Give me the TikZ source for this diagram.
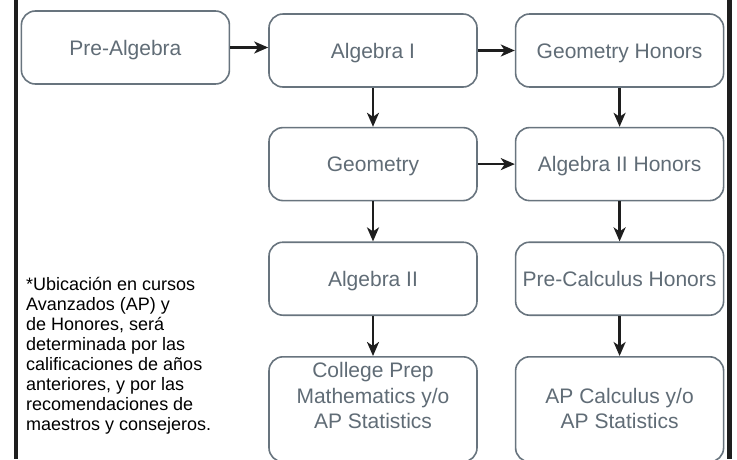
\documentclass[tikz,border=0pt]{standalone}
\usepackage{fontspec}
\setmainfont{Liberation Sans}
\usepackage{tikz}
\usetikzlibrary{positioning, arrows.meta}
\definecolor{boxgray}{RGB}{104, 116, 126}
\definecolor{textgray}{RGB}{96, 108, 118}
\definecolor{barblack}{RGB}{30, 30, 30}
\tikzset{
    coursebox/.style={
        draw=boxgray, line width=1.6pt, rounded corners=14pt, fill=white,
        minimum width=208pt, minimum height=73pt, inner sep=3pt,
        text=textgray, align=center, text height=15pt, text depth=0pt,
        font=\fontsize{21pt}{25.5pt}\selectfont
    },
    tallbox/.style={
        coursebox, minimum height=105pt, text height=68pt, text depth=29pt
    },
    flow/.style={
        -{Stealth[length=14pt, width=12pt, inset=4pt]}, line width=2.4pt, barblack
    },
    footnote/.style={
        align=left, inner sep=0pt, text=black,
        font=\fontsize{18pt}{20pt}\selectfont
    }
}

\begin{document}
\begin{tikzpicture}[x=1pt, y=-1pt]
    \useasboundingbox (0,0) rectangle (737,459);

    % --- BARS ---
    \fill[barblack] (13.5,0) rectangle (18,459);
    \fill[barblack] (727,0) rectangle (732,459);

    % --- COURSES ---
    % Middle column
    \node[coursebox] (alg1) at (373,50.5) {Algebra I};
    \node[coursebox, below=39pt of alg1] (geom) {Geometry};
    \node[coursebox, below=40pt of geom] (alg2) {Algebra II};
    \node[tallbox, below=40pt of alg2] (college)
        {College Prep\\Mathematics y/o\\AP Statistics};
    % Left
    \node[coursebox, left=38pt of alg1, yshift=3pt] (prealg) {Pre-Algebra};
    % Honors column
    \node[coursebox, right=37pt of alg1] (geomh) {Geometry Honors};
    \node[coursebox, right=37pt of geom] (alg2h) {Algebra II Honors};
    \node[coursebox, right=37pt of alg2] (precalch) {Pre-Calculus Honors};
    \node[tallbox, right=37pt of college] (apcalc)
        {AP Calculus y/o\\AP Statistics};

    % --- ARROWS ---
    \draw[flow] (prealg.east) -- (prealg.east -| alg1.west);
    \draw[flow] (alg1) -- (geomh);
    \draw[flow] (alg1) -- (geom);
    \draw[flow] (geom) -- (alg2h);
    \draw[flow] (geom) -- (alg2);
    \draw[flow] (alg2) -- (college);
    \draw[flow] (geomh) -- (alg2h);
    \draw[flow] (alg2h) -- (precalch);
    \draw[flow] (precalch) -- (apcalc);

    % --- NOTE ---
    \node[footnote, anchor=north west] (note) at (26,277.5)
        {*Ubicación en cursos\\Avanzados (AP) y\\de Honores, será\\determinada por las\\calificaciones de años\\anteriores, y por las\\recomendaciones de\\maestros y consejeros.};
\end{tikzpicture}
\end{document}
